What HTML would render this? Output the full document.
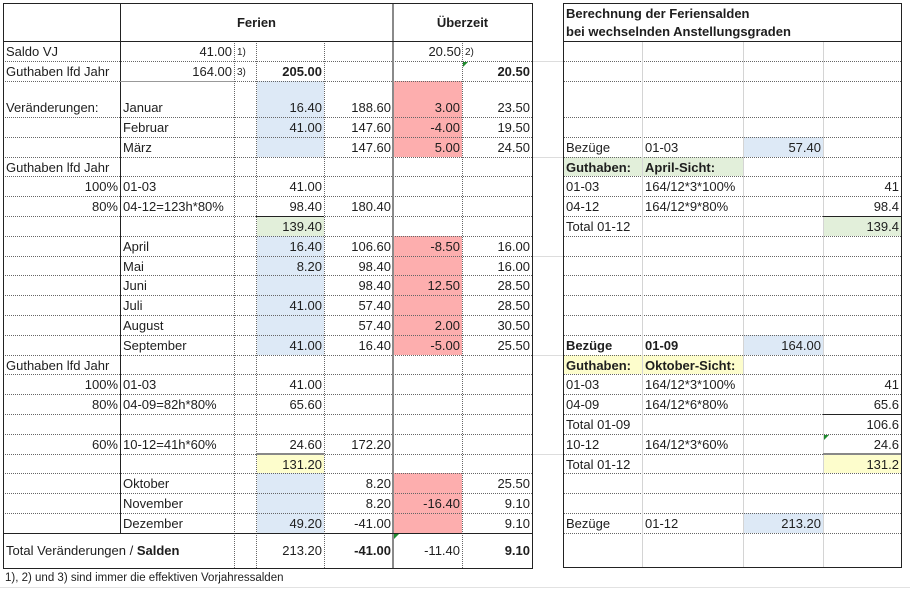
<!DOCTYPE html>
<html><head><meta charset="utf-8"><style>
body{margin:0;width:910px;height:594px;background:#fff;position:relative;overflow:hidden;font-family:"Liberation Sans",sans-serif;color:#1e1e1e}
div{position:absolute}
.h{height:0;border-top:1px dotted #666}
.v{width:0;border-left:1px dotted #666}
.t{font-size:13px;line-height:20px;height:20px;white-space:nowrap;margin-top:1px}
.b{font-weight:bold}
.s{font-size:10px}
</style></head><body>
<div style="left:532px;top:61px;width:31px;height:0;border-top:1px solid #ddd"></div>
<div style="left:532px;top:157px;width:31px;height:0;border-top:1px solid #ddd"></div>
<div style="left:532px;top:256px;width:31px;height:0;border-top:1px solid #ddd"></div>
<div style="left:532px;top:355px;width:31px;height:0;border-top:1px solid #ddd"></div>
<div style="left:532px;top:454px;width:31px;height:0;border-top:1px solid #ddd"></div>
<div style="left:0;top:587px;width:910px;height:0;border-top:1px solid #e2e2e2"></div>

<div style="left:257px;top:81px;width:67px;height:76px;background:#dde9f6"></div>
<div style="left:257px;top:236px;width:67px;height:119px;background:#dde9f6"></div>
<div style="left:257px;top:473px;width:67px;height:60px;background:#dde9f6"></div>
<div style="left:394px;top:81px;width:68px;height:76px;background:#fdaeae"></div>
<div style="left:394px;top:236px;width:68px;height:119px;background:#fdaeae"></div>
<div style="left:394px;top:473px;width:68px;height:60px;background:#fdaeae"></div>
<div style="left:257px;top:216px;width:67px;height:20px;background:#e2efda"></div>
<div style="left:257px;top:454px;width:67px;height:19px;background:#fdfdcc"></div>
<div style="left:743px;top:137px;width:80px;height:20px;background:#dde9f6"></div>
<div style="left:743px;top:335px;width:80px;height:20px;background:#dde9f6"></div>
<div style="left:743px;top:513px;width:80px;height:20px;background:#dde9f6"></div>
<div style="left:563px;top:157px;width:180px;height:19px;background:#e2efda"></div>
<div style="left:823px;top:216px;width:78px;height:20px;background:#e2efda"></div>
<div style="left:563px;top:355px;width:180px;height:19px;background:#fdfdcc"></div>
<div style="left:823px;top:454px;width:78px;height:19px;background:#fdfdcc"></div>

<div class="h" style="left:3px;top:61px;width:529px"></div>
<div class="h" style="left:3px;top:81px;width:529px"></div>
<div class="h" style="left:3px;top:117px;width:529px"></div>
<div class="h" style="left:3px;top:137px;width:529px"></div>
<div class="h" style="left:3px;top:157px;width:529px"></div>
<div class="h" style="left:3px;top:176px;width:529px"></div>
<div class="h" style="left:3px;top:196px;width:529px"></div>
<div class="h" style="left:3px;top:216px;width:529px"></div>
<div class="h" style="left:3px;top:236px;width:529px"></div>
<div class="h" style="left:3px;top:256px;width:529px"></div>
<div class="h" style="left:3px;top:275px;width:529px"></div>
<div class="h" style="left:3px;top:295px;width:529px"></div>
<div class="h" style="left:3px;top:315px;width:529px"></div>
<div class="h" style="left:3px;top:335px;width:529px"></div>
<div class="h" style="left:3px;top:355px;width:529px"></div>
<div class="h" style="left:3px;top:374px;width:529px"></div>
<div class="h" style="left:3px;top:394px;width:529px"></div>
<div class="h" style="left:3px;top:414px;width:529px"></div>
<div class="h" style="left:3px;top:434px;width:529px"></div>
<div class="h" style="left:3px;top:454px;width:529px"></div>
<div class="h" style="left:3px;top:473px;width:529px"></div>
<div class="h" style="left:3px;top:493px;width:529px"></div>
<div class="h" style="left:3px;top:513px;width:529px"></div>
<div class="h" style="left:563px;top:61px;width:338px"></div>
<div class="h" style="left:563px;top:81px;width:338px"></div>
<div class="h" style="left:563px;top:117px;width:338px"></div>
<div class="h" style="left:563px;top:137px;width:338px"></div>
<div class="h" style="left:563px;top:157px;width:338px"></div>
<div class="h" style="left:563px;top:176px;width:338px"></div>
<div class="h" style="left:563px;top:196px;width:338px"></div>
<div class="h" style="left:563px;top:216px;width:338px"></div>
<div class="h" style="left:563px;top:236px;width:338px"></div>
<div class="h" style="left:563px;top:256px;width:338px"></div>
<div class="h" style="left:563px;top:275px;width:338px"></div>
<div class="h" style="left:563px;top:295px;width:338px"></div>
<div class="h" style="left:563px;top:315px;width:338px"></div>
<div class="h" style="left:563px;top:335px;width:338px"></div>
<div class="h" style="left:563px;top:355px;width:338px"></div>
<div class="h" style="left:563px;top:374px;width:338px"></div>
<div class="h" style="left:563px;top:394px;width:338px"></div>
<div class="h" style="left:563px;top:414px;width:338px"></div>
<div class="h" style="left:563px;top:434px;width:338px"></div>
<div class="h" style="left:563px;top:454px;width:338px"></div>
<div class="h" style="left:563px;top:473px;width:338px"></div>
<div class="h" style="left:563px;top:493px;width:338px"></div>
<div class="h" style="left:563px;top:513px;width:338px"></div>
<div class="h" style="left:563px;top:533px;width:338px"></div>

<div class="v" style="left:234px;top:41px;height:527px"></div>
<div class="v" style="left:256px;top:41px;height:527px"></div>
<div class="v" style="left:324px;top:41px;height:527px"></div>
<div class="v" style="left:462px;top:41px;height:527px"></div>
<div style="left:120px;top:3px;width:1px;height:530px;background:#222"></div>
<div style="left:392px;top:3px;width:2px;height:565px;background:#8a8a8a"></div>
<div style="left:3px;top:3px;width:528px;height:564px;border:1px solid #222"></div>
<div style="left:3px;top:41px;width:529px;height:1px;background:#222"></div>
<div style="left:3px;top:533px;width:529px;height:1px;background:#222"></div>
<div style="left:120px;top:81px;width:114px;height:1px;background:#999"></div>
<div style="left:256px;top:216px;width:68px;height:1px;background:#222"></div>
<div style="left:256px;top:453px;width:68px;height:2px;background:#888"></div>

<div style="left:642px;top:41px;width:1px;height:526px;background:#d4d4d4"></div>
<div style="left:743px;top:41px;width:1px;height:526px;background:#d4d4d4"></div>
<div style="left:823px;top:41px;width:1px;height:526px;background:#d4d4d4"></div>
<div style="left:563px;top:3px;width:337px;height:563px;border:1px solid #222"></div>
<div style="left:563px;top:41px;width:338px;height:1px;background:#222"></div>
<div style="left:823px;top:216px;width:78px;height:1px;background:#222"></div>
<div style="left:823px;top:414px;width:78px;height:1px;background:#222"></div>
<div style="left:823px;top:453px;width:78px;height:2px;background:#888"></div>

<div class="t b" style="left:120px;top:12px;width:273px;text-align:center">Ferien</div>
<div class="t b" style="left:393px;top:12px;width:139px;text-align:center">Überzeit</div>
<div class="t b" style="left:566px;top:3px">Berechnung der Feriensalden</div>
<div class="t b" style="left:566px;top:21px">bei wechselnden Anstellungsgraden</div>

<div class="t" style="left:6px;top:41px">Saldo VJ</div>
<div class="t" style="right:678px;top:41px">41.00</div>
<div class="t s" style="left:237px;top:42px">1)</div>
<div class="t" style="right:449px;top:41px">20.50</div>
<div class="t s" style="left:465px;top:42px">2)</div>

<div class="t" style="left:6px;top:61px">Guthaben lfd Jahr</div>
<div class="t" style="right:678px;top:61px">164.00</div>
<div class="t s" style="left:237px;top:62px">3)</div>
<div class="t b" style="right:588px;top:61px">205.00</div>
<div class="t b" style="right:380px;top:61px">20.50</div>

<div class="t" style="left:6px;top:97px">Veränderungen:</div>
<div class="t" style="left:123px;top:97px">Januar</div>
<div class="t" style="right:588px;top:97px">16.40</div>
<div class="t" style="right:519px;top:97px">188.60</div>
<div class="t" style="right:450px;top:97px">3.00</div>
<div class="t" style="right:380px;top:97px">23.50</div>

<div class="t" style="left:123px;top:117px">Februar</div>
<div class="t" style="right:588px;top:117px">41.00</div>
<div class="t" style="right:519px;top:117px">147.60</div>
<div class="t" style="right:450px;top:117px">-4.00</div>
<div class="t" style="right:380px;top:117px">19.50</div>

<div class="t" style="left:123px;top:137px">März</div>
<div class="t" style="right:519px;top:137px">147.60</div>
<div class="t" style="right:450px;top:137px">5.00</div>
<div class="t" style="right:380px;top:137px">24.50</div>

<div class="t" style="left:6px;top:157px">Guthaben lfd Jahr</div>
<div class="t" style="right:792px;top:176px">100%</div>
<div class="t" style="left:123px;top:176px">01-03</div>
<div class="t" style="right:588px;top:176px">41.00</div>
<div class="t" style="right:792px;top:196px">80%</div>
<div class="t" style="left:123px;top:196px">04-12=123h*80%</div>
<div class="t" style="right:588px;top:196px">98.40</div>
<div class="t" style="right:519px;top:196px">180.40</div>
<div class="t" style="right:588px;top:216px">139.40</div>

<div class="t" style="left:123px;top:236px">April</div>
<div class="t" style="right:588px;top:236px">16.40</div>
<div class="t" style="right:519px;top:236px">106.60</div>
<div class="t" style="right:450px;top:236px">-8.50</div>
<div class="t" style="right:380px;top:236px">16.00</div>

<div class="t" style="left:123px;top:256px">Mai</div>
<div class="t" style="right:588px;top:256px">8.20</div>
<div class="t" style="right:519px;top:256px">98.40</div>
<div class="t" style="right:380px;top:256px">16.00</div>

<div class="t" style="left:123px;top:275px">Juni</div>
<div class="t" style="right:519px;top:275px">98.40</div>
<div class="t" style="right:450px;top:275px">12.50</div>
<div class="t" style="right:380px;top:275px">28.50</div>

<div class="t" style="left:123px;top:295px">Juli</div>
<div class="t" style="right:588px;top:295px">41.00</div>
<div class="t" style="right:519px;top:295px">57.40</div>
<div class="t" style="right:380px;top:295px">28.50</div>

<div class="t" style="left:123px;top:315px">August</div>
<div class="t" style="right:519px;top:315px">57.40</div>
<div class="t" style="right:450px;top:315px">2.00</div>
<div class="t" style="right:380px;top:315px">30.50</div>

<div class="t" style="left:123px;top:335px">September</div>
<div class="t" style="right:588px;top:335px">41.00</div>
<div class="t" style="right:519px;top:335px">16.40</div>
<div class="t" style="right:450px;top:335px">-5.00</div>
<div class="t" style="right:380px;top:335px">25.50</div>

<div class="t" style="left:6px;top:355px">Guthaben lfd Jahr</div>
<div class="t" style="right:792px;top:374px">100%</div>
<div class="t" style="left:123px;top:374px">01-03</div>
<div class="t" style="right:588px;top:374px">41.00</div>
<div class="t" style="right:792px;top:394px">80%</div>
<div class="t" style="left:123px;top:394px">04-09=82h*80%</div>
<div class="t" style="right:588px;top:394px">65.60</div>
<div class="t" style="right:792px;top:434px">60%</div>
<div class="t" style="left:123px;top:434px">10-12=41h*60%</div>
<div class="t" style="right:588px;top:434px">24.60</div>
<div class="t" style="right:519px;top:434px">172.20</div>
<div class="t" style="right:588px;top:454px">131.20</div>

<div class="t" style="left:123px;top:473px">Oktober</div>
<div class="t" style="right:519px;top:473px">8.20</div>
<div class="t" style="right:380px;top:473px">25.50</div>

<div class="t" style="left:123px;top:493px">November</div>
<div class="t" style="right:519px;top:493px">8.20</div>
<div class="t" style="right:450px;top:493px">-16.40</div>
<div class="t" style="right:380px;top:493px">9.10</div>

<div class="t" style="left:123px;top:513px">Dezember</div>
<div class="t" style="right:588px;top:513px">49.20</div>
<div class="t" style="right:519px;top:513px">-41.00</div>
<div class="t" style="right:380px;top:513px">9.10</div>

<div class="t" style="left:6px;top:540px">Total Veränderungen / <b>Salden</b></div>
<div class="t" style="right:588px;top:540px">213.20</div>
<div class="t b" style="right:519px;top:540px">-41.00</div>
<div class="t" style="right:450px;top:540px">-11.40</div>
<div class="t b" style="right:380px;top:540px">9.10</div>

<div class="t" style="left:5px;top:567px;font-size:11.5px">1), 2) und 3) sind immer die effektiven Vorjahressalden</div>

<div class="t" style="left:566px;top:137px">Bezüge</div>
<div class="t" style="left:645px;top:137px">01-03</div>
<div class="t" style="right:89px;top:137px">57.40</div>
<div class="t b" style="left:566px;top:157px">Guthaben:</div>
<div class="t b" style="left:645px;top:157px">April-Sicht:</div>
<div class="t" style="left:566px;top:176px">01-03</div>
<div class="t" style="left:645px;top:176px">164/12*3*100%</div>
<div class="t" style="right:11px;top:176px">41</div>
<div class="t" style="left:566px;top:196px">04-12</div>
<div class="t" style="left:645px;top:196px">164/12*9*80%</div>
<div class="t" style="right:11px;top:196px">98.4</div>
<div class="t" style="left:566px;top:216px">Total 01-12</div>
<div class="t" style="right:11px;top:216px">139.4</div>

<div class="t b" style="left:566px;top:335px">Bezüge</div>
<div class="t b" style="left:645px;top:335px">01-09</div>
<div class="t" style="right:89px;top:335px">164.00</div>
<div class="t b" style="left:566px;top:355px">Guthaben:</div>
<div class="t b" style="left:645px;top:355px">Oktober-Sicht:</div>
<div class="t" style="left:566px;top:374px">01-03</div>
<div class="t" style="left:645px;top:374px">164/12*3*100%</div>
<div class="t" style="right:11px;top:374px">41</div>
<div class="t" style="left:566px;top:394px">04-09</div>
<div class="t" style="left:645px;top:394px">164/12*6*80%</div>
<div class="t" style="right:11px;top:394px">65.6</div>
<div class="t" style="left:566px;top:414px">Total 01-09</div>
<div class="t" style="right:11px;top:414px">106.6</div>
<div class="t" style="left:566px;top:434px">10-12</div>
<div class="t" style="left:645px;top:434px">164/12*3*60%</div>
<div class="t" style="right:11px;top:434px">24.6</div>
<div class="t" style="left:566px;top:454px">Total 01-12</div>
<div class="t" style="right:11px;top:454px">131.2</div>
<div class="t" style="left:566px;top:513px">Bezüge</div>
<div class="t" style="left:645px;top:513px">01-12</div>
<div class="t" style="right:89px;top:513px">213.20</div>

<div style="left:463px;top:62px;width:0;height:0;border-top:5px solid #1f8a2e;border-right:5px solid transparent"></div>
<div style="left:824px;top:435px;width:0;height:0;border-top:5px solid #1f8a2e;border-right:5px solid transparent"></div>
<div style="left:394px;top:534px;width:0;height:0;border-top:5px solid #1f8a2e;border-right:5px solid transparent"></div>
</body></html>
